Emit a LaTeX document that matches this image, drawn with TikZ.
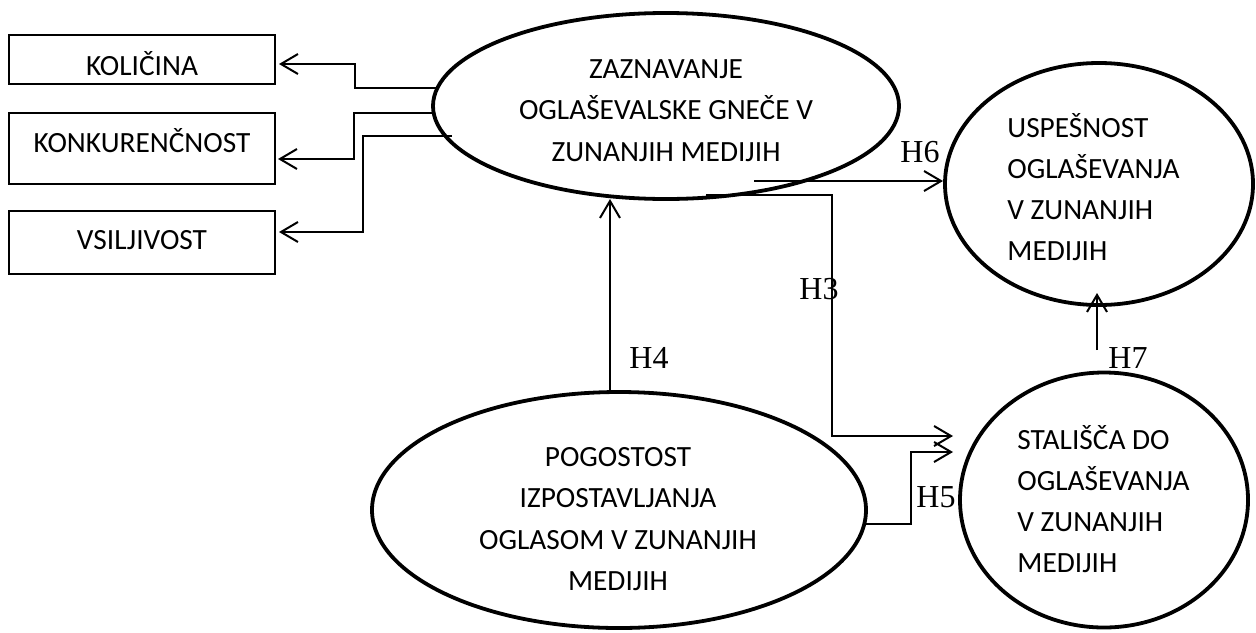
\documentclass[tikz,border=0pt]{standalone}
\usepackage{fontspec}
\setmainfont{Carlito}
\newfontfamily\hfont{Liberation Serif}
\usetikzlibrary{shapes.geometric,arrows.meta}
\begin{document}
\begin{tikzpicture}[x=0.5pt,y=-0.5pt,
  conn/.style={line width=1pt,-{Straight Barb[length=8.5pt,width=10pt,line width=1pt]}},
  ell/.style={ellipse,draw,line width=1.9pt,inner sep=0pt},
  boxst/.style={draw,line width=1.2pt,inner sep=0pt,minimum width=133pt},
  lbl/.style={font=\fontsize{14.67}{20.75}\selectfont,inner sep=0pt},
  lc/.style={lbl,anchor=base},
  ll/.style={lbl,anchor=base west},
  hl/.style={font=\hfont\fontsize{16}{18}\selectfont,inner sep=0pt,anchor=base}]
\useasboundingbox (0,0) rectangle (1256,632);

% boxes
\node[boxst,minimum height=24.5pt] (b1) at (142,59.5) {};
\node[boxst,minimum height=35.5pt] (b2) at (142,148.5) {};
\node[boxst,minimum height=31.5pt] (b3) at (142,242.5) {};
\node[lc] (b1t) at (142,75.5) {KOLIČINA};
\node[lc] (b2t) at (142,152) {KONKURENČNOST};
\node[lc] (b3t) at (142,249.5) {VSILJIVOST};

% ellipses
\node[ell,minimum width=233pt,minimum height=93pt] (ez) at (666,106) {};
\node[ell,minimum width=154pt,minimum height=121pt] (eu) at (1099,184) {};
\node[ell,minimum width=144pt,minimum height=127.5pt] (es) at (1104,500) {};
\node[ell,minimum width=247pt,minimum height=118pt] (ep) at (619,510) {};

% ellipse texts
\node[lc] (z1) at (666,78) {ZAZNAVANJE};
\node[lc] (z2) at (666,119.5) {OGLAŠEVALSKE GNEČE V};
\node[lc] (z3) at (666,161) {ZUNANJIH MEDIJIH};

\node[lc] (p1) at (618,466.5) {POGOSTOST};
\node[lc] (p2) at (618,507.5) {IZPOSTAVLJANJA};
\node[lc] (p3) at (618,549.5) {OGLASOM V ZUNANJIH};
\node[lc] (p4) at (618,590.5) {MEDIJIH};

\node[ll] (s1) at (1017,449.5) {STALIŠČA DO};
\node[ll] (s2) at (1017,490.5) {OGLAŠEVANJA};
\node[ll] (s3) at (1017,531.5) {V ZUNANJIH};
\node[ll] (s4) at (1017,572.5) {MEDIJIH};

\node[ll] (u1) at (1007,137.5) {USPEŠNOST};
\node[ll] (u2) at (1007,178.5) {OGLAŠEVANJA};
\node[ll] (u3) at (1007,219.5) {V ZUNANJIH};
\node[ll] (u4) at (1007,260.5) {MEDIJIH};

% connector end points
\coordinate (a1s) at (437,88);  \coordinate (a1e) at (279,64);
\coordinate (a2s) at (433,113); \coordinate (a2e) at (278,159);
\coordinate (a3s) at (452,136); \coordinate (a3e) at (279,232);
\coordinate (h6s) at (754,181); \coordinate (h6e) at (943,181);
\coordinate (h3s) at (706,195); \coordinate (h3e) at (953,436);
\coordinate (h4s) at (610,393); \coordinate (h4e) at (610,199);
\coordinate (h5s) at (865,524); \coordinate (h5e) at (953,452);
\coordinate (h7s) at (1097,350); \coordinate (h7e) at (1097,293);

\draw[conn] (a1s) -- (355,88) |- (a1e);
\draw[conn] (a2s) -- (354,113) |- (a2e);
\draw[conn] (a3s) -- (363,136) |- (a3e);
\draw[conn] (h6s) -- (h6e);
\draw[conn] (h3s) -- (832,195) |- (h3e);
\draw[conn] (h4s) -- (h4e);
\draw[conn] (h5s) -- (911,524) |- (h5e);
\draw[conn] (h7s) -- (h7e);

% hypothesis labels
\node[hl] (l6) at (920,162.5) {H6};
\node[hl] (l3) at (819,299.5) {H3};
\node[hl] (l4) at (649,368.5) {H4};
\node[hl] (l5) at (936,507.5) {H5};
\node[hl] (l7) at (1128,368.5) {H7};
\end{tikzpicture}
\end{document}
